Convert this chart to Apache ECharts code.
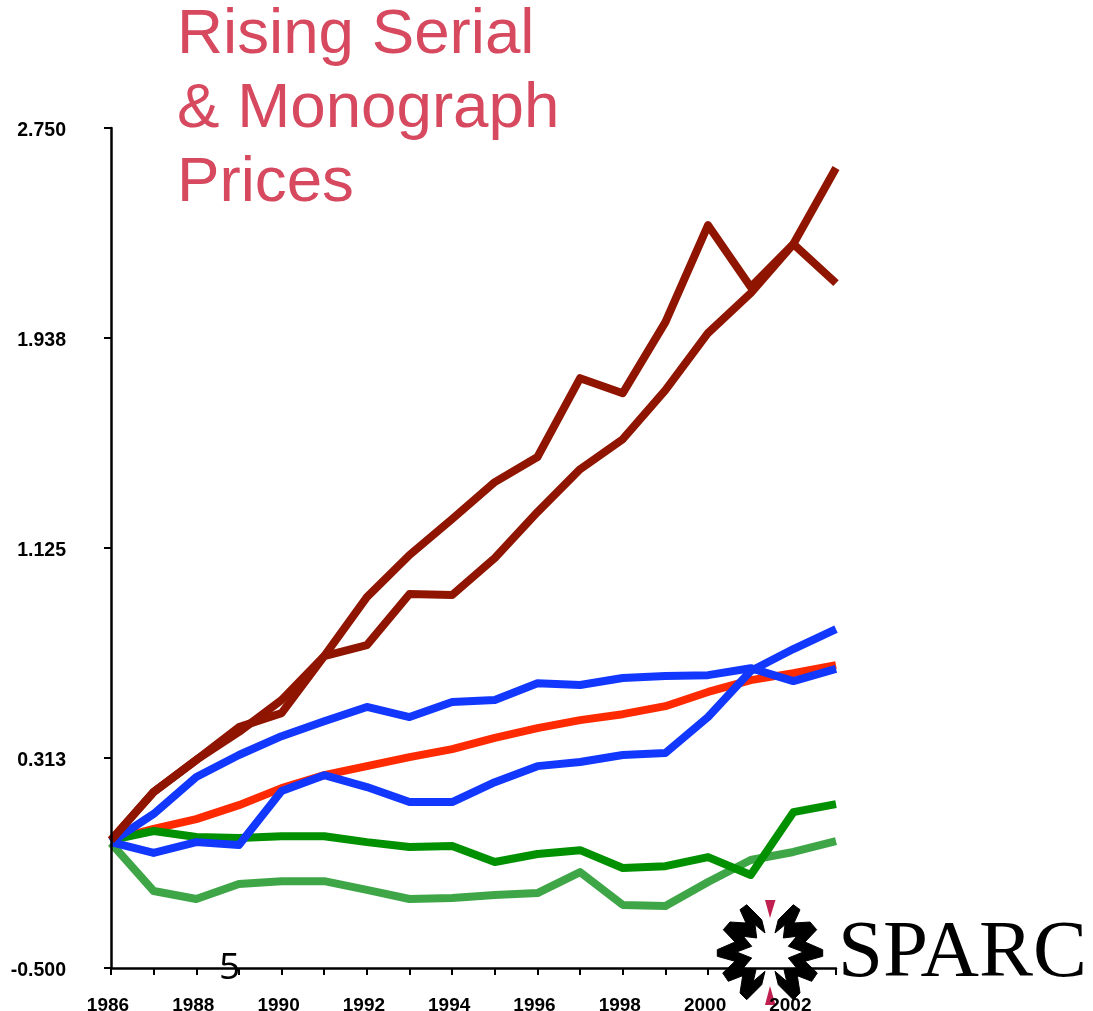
<!DOCTYPE html>
<html lang="en">
<head>
<meta charset="UTF-8">
<title>Rising Serial & Monograph Prices</title>
<style>
  * { margin: 0; padding: 0; }
  body { background: #fff; }
  #chart { width: 1093px; height: 1011px; }
</style>
</head>
<body>
<div id="chart"></div>
<script src="https://cdn.jsdelivr.net/npm/echarts@6/dist/echarts.min.js"></script>
<script>
var years = ['1986','1987','1988','1989','1990','1991','1992','1993','1994','1995','1996','1997','1998','1999','2000','2001','2002','2003'];

// values
var darkRedSpike = [-0.005,0.181,0.305,0.413,0.537,0.707,0.935,1.098,1.237,1.380,1.477,1.782,1.724,1.999,2.374,2.135,2.301,2.150];
var darkRedRise  = [-0.005,0.181,0.305,0.432,0.486,0.707,0.749,0.947,0.943,1.086,1.264,1.430,1.546,1.736,1.957,2.111,2.301,2.595];
var blueUpper    = [-0.013,0.096,0.239,0.324,0.397,0.455,0.510,0.471,0.529,0.537,0.602,0.595,0.622,0.630,0.633,0.660,0.610,0.657];
var blueLower    = [-0.013,-0.055,-0.013,-0.024,0.185,0.246,0.200,0.142,0.142,0.219,0.281,0.297,0.324,0.332,0.471,0.649,0.734,0.811];
var redLine      = [-0.005,0.038,0.076,0.130,0.196,0.246,0.281,0.316,0.347,0.390,0.428,0.459,0.482,0.513,0.568,0.614,0.641,0.672];
var greenDark    = [-0.005,0.030,0.007,0.003,0.010,0.010,-0.013,-0.032,-0.028,-0.090,-0.059,-0.044,-0.113,-0.106,-0.071,-0.140,0.103,0.134];
var greenLight   = [-0.017,-0.202,-0.233,-0.175,-0.164,-0.164,-0.198,-0.233,-0.229,-0.218,-0.210,-0.129,-0.256,-0.260,-0.167,-0.082,-0.051,-0.009];

// left half of the SPARC star, relative to its centre; the right half is this one mirrored
var starHalf = [[-5,-19],[-8.3,-32.3],[-23.3,-47.3],[-30,-42.3],[-24,-29],[-40,-30],[-46.7,-22.3],[-35,-10],[-52.7,-2.3],[-52.7,4.3],[-35,9.3],[-47.3,21],[-41.7,29.3],[-27.3,23.7],[-30,41],[-23.3,47.7],[-8.3,32.7],[-5,19.3],[-16.7,29.3],[-14,17.7],[-26.7,16],[-18.3,6],[-33.3,0],[-18.3,-5.7],[-26.7,-15.7],[-13.3,-14],[-15,-27.3]];

function makeLine(name, data, color) {
	return {
		type: 'line',
		name: name,
		data: data,
		symbol: 'none',
		silent: true,
		clip: false,
		animation: false,
		lineStyle: { color: color, width: 8, cap: 'butt', join: 'round' }
	};
}

var starStyle = { fill: '#000', stroke: '#000', lineWidth: 1, lineJoin: 'miter' };

var myChart = echarts.init(document.getElementById('chart'));
myChart.setOption({
	animation: false,
	backgroundColor: '#fff',
	title: {
		text: 'Rising Serial\n& Monograph\nPrices',
		left: 177,
		top: -2,
		padding: 0,
		textStyle: {
			fontFamily: 'Liberation Sans',
			fontSize: 63.7,
			fontWeight: 'normal',
			lineHeight: 74,
			color: '#d6495f'
		}
	},
	grid: { left: 111, top: 128, width: 725, height: 840, outerBoundsMode: 'none' },
	xAxis: {
		type: 'category',
		data: years,
		boundaryGap: false,
		z: 5,
		axisLine: { onZero: false, lineStyle: { color: '#000', width: 2.5 } },
		axisTick: { interval: 0, length: 7, lineStyle: { color: '#000', width: 2 } },
		axisLabel: {
			interval: 1,
			margin: 28,
			padding: [0, 6, 0, 0],
			color: '#000',
			fontFamily: 'Liberation Sans',
			fontWeight: 'bold',
			fontSize: 19
		},
		splitLine: { show: false }
	},
	yAxis: {
		type: 'value',
		min: -0.5,
		max: 2.75,
		interval: 0.8125,
		z: 5,
		axisLine: { show: true, lineStyle: { color: '#000', width: 2.5 } },
		axisTick: { show: true, length: 7, lineStyle: { color: '#000', width: 2 } },
		axisLabel: {
			margin: 45,
			verticalAlign: 'top',
			lineHeight: 6,
			color: '#000',
			fontFamily: 'Liberation Sans',
			fontWeight: 'bold',
			fontSize: 19.5,
			formatter: function (v) { return v.toFixed(3); }
		},
		splitLine: { show: false }
	},
	series: [
		makeLine('Light green', greenLight, '#3fa648'),
		makeLine('Red', redLine, '#ff2a00'),
		makeLine('Dark green', greenDark, '#009000'),
		makeLine('Blue upper', blueUpper, '#1238ff'),
		makeLine('Blue lower', blueLower, '#1238ff'),
		makeLine('Dark red spike', darkRedSpike, '#8f1500'),
		makeLine('Dark red rise', darkRedRise, '#8f1500')
	],
	graphic: [
		{
			type: 'group',
			x: 770,
			y: 952,
			z: 1,
			silent: true,
			children: [
				{ type: 'polygon', shape: { points: starHalf }, style: starStyle },
				{ type: 'polygon', scaleX: -1, shape: { points: starHalf }, style: starStyle },
				{ type: 'polygon', shape: { points: [[-5,-52],[5.5,-52],[0,-34]] }, style: { fill: '#c0204f' } },
				{ type: 'polygon', shape: { points: [[-5,53],[5.5,53],[0,34]] }, style: { fill: '#c0204f' } }
			]
		},
		{
			type: 'text',
			x: 838,
			y: 995,
			z: 1,
			scaleX: 1.012,
			silent: true,
			style: {
				text: 'SPARC',
				font: '80px "Liberation Serif"',
				fill: '#000',
				textVerticalAlign: 'bottom'
			}
		},
		{
			type: 'text',
			x: 219,
			y: 950,
			z: 10,
			silent: true,
			style: {
				text: '5',
				font: '37px "Open Sans"',
				fill: '#000'
			}
		}
	]
});
</script>
</body>
</html>
